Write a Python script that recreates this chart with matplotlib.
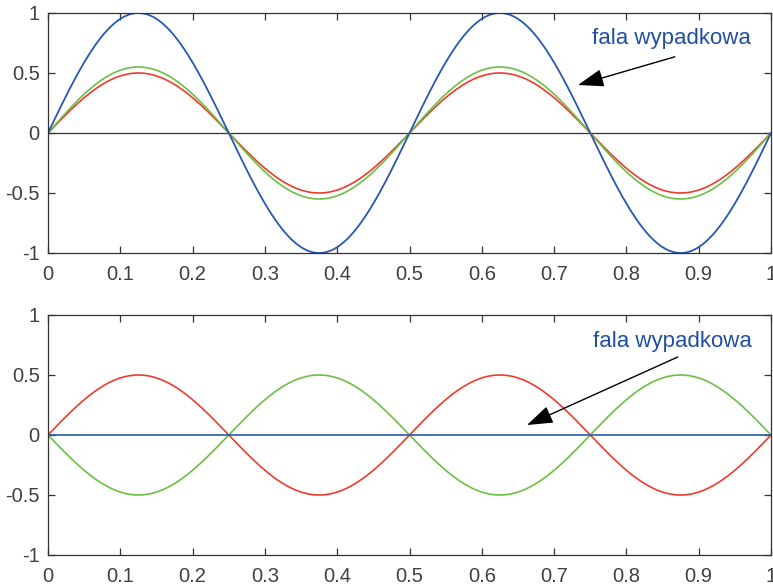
import numpy as np
import matplotlib
matplotlib.use('Agg')
import matplotlib.pyplot as plt

plt.rcParams['font.family'] = ['Liberation Sans', 'DejaVu Sans']

# wave parameters
freq = 2.0                      # two full periods on 0..1
x_start, x_end = 0.0, 1.0

top_amp_red = 0.5
top_amp_green = 0.55
top_amp_blue = 1.0

bot_amp_red = 0.5
bot_amp_green = -0.5
bot_amp_blue = 0.0

xticks = [0, 0.1, 0.2, 0.3, 0.4, 0.5, 0.6, 0.7, 0.8, 0.9, 1]
xtick_labels = ['0', '0.1', '0.2', '0.3', '0.4', '0.5', '0.6', '0.7', '0.8', '0.9', '1']
yticks = [-1, -0.5, 0, 0.5, 1]
ytick_labels = ['-1', '-0.5', '0', '0.5', '1']

label = 'fala wypadkowa'

c_red = '#ee3b2c'
c_green = '#6cbf45'
c_blue = '#2857b2'
c_text = '#1f4ea3'

x = np.linspace(x_start, x_end, 1001)
s = np.sin(2 * np.pi * freq * x)

fig = plt.figure(figsize=(7.73, 5.87), dpi=100)
ax1 = fig.add_axes([48 / 773, 1 - 253 / 587, 723 / 773, 240 / 587])
ax2 = fig.add_axes([48 / 773, 1 - 555 / 587, 723 / 773, 240 / 587])

arrow_style = dict(arrowstyle='-|>,head_length=1.6,head_width=0.55',
                   mutation_scale=10, color='black', lw=1.0,
                   shrinkA=0, shrinkB=0)


def style(ax):
    ax.set_xlim(x_start, x_end)
    ax.set_ylim(-1, 1)
    ax.set_xticks(xticks)
    ax.set_xticklabels(xtick_labels)
    ax.set_yticks(yticks)
    ax.set_yticklabels(ytick_labels)
    ax.tick_params(direction='in', length=5, width=0.9, color='#333333',
                   labelcolor='#404040', labelsize=14.5, top=True, right=True)
    ax.tick_params(axis='x', pad=9)
    ax.tick_params(axis='y', pad=6)
    for sp in ax.spines.values():
        sp.set_color('#333333')
        sp.set_linewidth(0.9)


# top: waves in phase
ax1.axhline(0, color='#333333', lw=0.9)
ax1.plot(x, top_amp_red * s, color=c_red, lw=1.2)
ax1.plot(x, top_amp_green * s, color=c_green, lw=1.2)
ax1.plot(x, top_amp_blue * s, color=c_blue, lw=1.3)
style(ax1)
ax1.text(0.862, 0.79, label, ha='center', va='center', fontsize=16, color=c_text)
ax1.annotate('', xy=(0.733, 0.40), xytext=(0.867, 0.635), arrowprops=arrow_style)

# bottom: waves in opposite phase
ax2.plot(x, bot_amp_red * s, color=c_red, lw=1.2)
ax2.plot(x, bot_amp_green * s, color=c_green, lw=1.2)
ax2.plot(x, bot_amp_blue * s, color=c_blue, lw=1.2)
style(ax2)
ax2.text(0.863, 0.783, label, ha='center', va='center', fontsize=16, color=c_text)
ax2.annotate('', xy=(0.6625, 0.083), xytext=(0.871, 0.65), arrowprops=arrow_style)

fig.savefig('out.png', dpi=100)
